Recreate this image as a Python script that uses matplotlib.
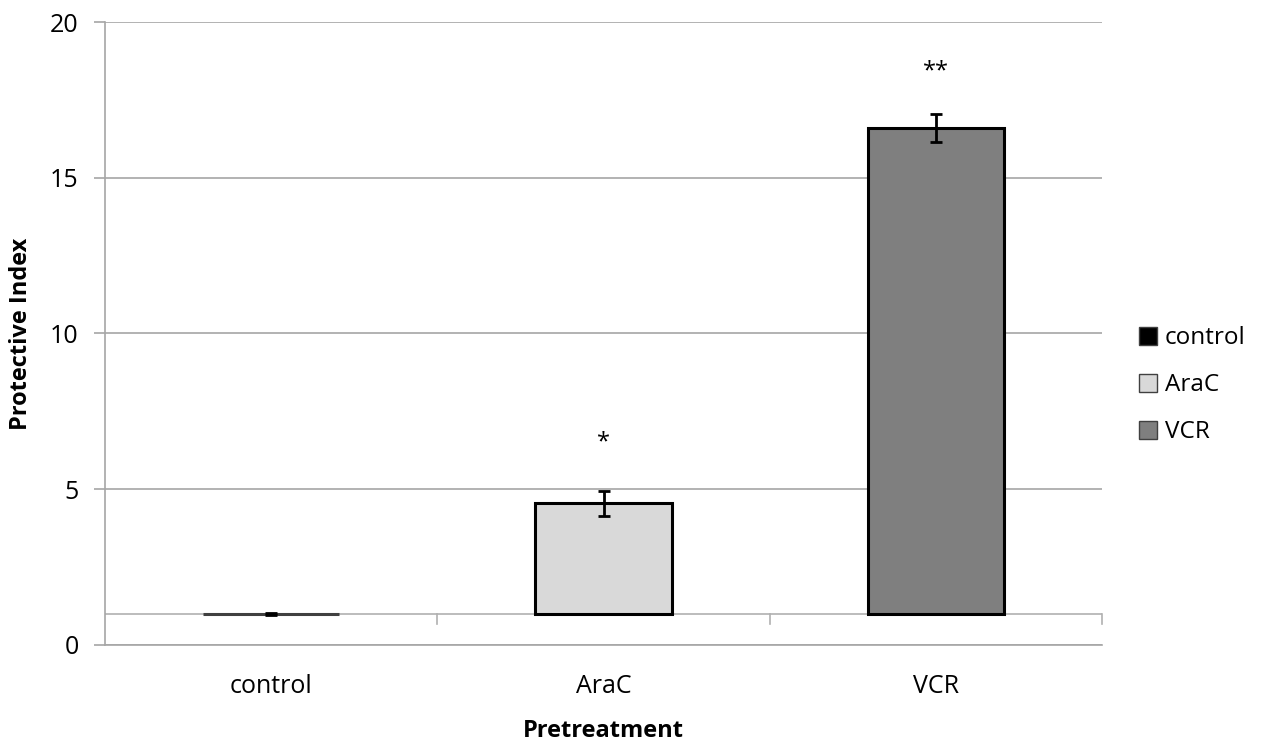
import matplotlib.pyplot as plt
import numpy as np

plt.rcParams['font.family'] = ['Open Sans', 'DejaVu Sans']

categories = ["control", "AraC", "VCR"]
values = [1.0, 4.55, 16.6]
errors = [0.03, 0.4, 0.46]
stars = ["", "*", "**"]
star_y = [0, 6.5, 18.4]
colors = ["#000000", "#d9d9d9", "#7f7f7f"]
baseline = 1.0


def main():
    fig = plt.figure(figsize=(12.61, 7.41), dpi=100)
    ax = fig.add_axes([0.0833, 0.1296, 0.7906, 0.8407])
    x = np.arange(len(categories))

    ax.set_axisbelow(True)
    ax.yaxis.grid(True, color="#a6a6a6", linewidth=1.2)
    ax.set_ylim(0, 20)
    ax.set_xlim(-0.5, 2.5)
    ax.set_yticks([0, 5, 10, 15, 20])

    # category axis sits at y = 1
    ax.axhline(baseline, color="#b0b0b0", linewidth=1.2, zorder=1)
    for b in [0.5, 1.5, 2.5]:
        ax.plot([b, b], [baseline, baseline - 0.32], color="#b0b0b0", linewidth=1.2, zorder=1, clip_on=False)

    heights = [v - baseline for v in values]
    for i in range(len(categories)):
        ax.bar(x[i], heights[i], bottom=baseline, width=0.41, color=colors[i],
               edgecolor="#000000" if i else "#404040", linewidth=2.2, label=categories[i], zorder=3)
        ax.errorbar(x[i], values[i], yerr=errors[i], fmt="none", ecolor="black",
                    elinewidth=2, capsize=4.5, capthick=2, zorder=4)
        if stars[i]:
            ax.text(x[i], star_y[i], stars[i], ha="center", va="center", fontsize=17)

    ax.set_xticks(x)
    ax.set_xticklabels(categories)
    ax.tick_params(axis="x", length=0, pad=21, labelsize=18)
    ax.tick_params(axis="y", length=8, color="#a6a6a6", width=1.2, labelsize=18, pad=11)

    for s in ["top", "right"]:
        ax.spines[s].set_visible(False)
    ax.spines["left"].set_color("#a6a6a6")
    ax.spines["left"].set_linewidth(1.2)
    ax.spines["bottom"].set_color("#a6a6a6")
    ax.spines["bottom"].set_linewidth(1.2)

    ax.set_xlabel("Pretreatment", fontsize=17, fontweight="bold", labelpad=14)
    ax.set_ylabel("Protective Index", fontsize=17, fontweight="bold", labelpad=12)

    handles = [plt.Rectangle((0, 0), 1, 1, facecolor=c, edgecolor="#404040", linewidth=1) for c in colors]
    fig.legend(handles, categories, loc="center left", bbox_to_anchor=(0.886, 0.48),
               frameon=False, fontsize=17.5, handlelength=0.75, handleheight=0.75,
               handletextpad=0.3, labelspacing=0.95)

    fig.savefig("out.png", dpi=100)


if __name__ == "__main__":
    main()
